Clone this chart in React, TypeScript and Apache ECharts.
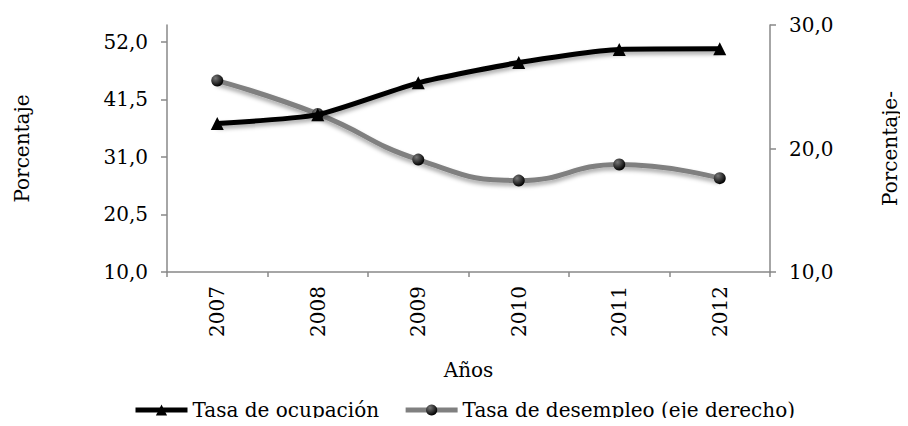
import React, { useEffect, useRef } from "react";
import * as echarts from "echarts";

const years = ["2007", "2008", "2009", "2010", "2011", "2012"];
const ocupacion = [37.1, 38.7, 44.5, 48.2, 50.6, 50.7];
const desempleo = [25.5, 22.8, 19.1, 17.4, 18.7, 17.6];
const leftTicks = [10, 20.5, 31, 41.5, 52];

const FONT = "DejaVu Serif";
const FS = 20;
const fmt = (v: number) => v.toFixed(1).replace(".", ",");

export default function App() {
  const ref = useRef<HTMLDivElement>(null);
  useEffect(() => {
    if (!ref.current) return;
    const chart = echarts.init(ref.current, null, { renderer: "svg" });
    const markerColor = {
      type: "radial",
      x: 0.35,
      y: 0.3,
      r: 0.7,
      colorStops: [
        { offset: 0, color: "#777" },
        { offset: 1, color: "#000" },
      ],
    };
    const txt = { fontFamily: FONT, fontSize: FS, color: "#000" };
    chart.setOption({
      animation: false,
      textStyle: { fontFamily: FONT },
      grid: { left: 167, right: 133, top: 25, bottom: 154 },
      legend: {
        bottom: 1,
        left: 128,
        itemWidth: 52,
        itemHeight: 14,
        itemGap: 24,
        lineStyle: { width: 5 },
        textStyle: txt,
        data: ["Tasa de ocupación", "Tasa de desempleo (eje derecho)"],
      },
      xAxis: {
        type: "category",
        data: years,
        boundaryGap: true,
        name: "Años",
        nameLocation: "middle",
        nameGap: 88,
        nameTextStyle: txt,
        axisLine: { lineStyle: { color: "#888", width: 1.5 } },
        axisTick: { show: true, length: 5, lineStyle: { color: "#888", width: 1.5 } },
        axisLabel: { ...txt, rotate: 90, margin: 14 },
      },
      yAxis: [
        {
          type: "value",
          min: 10,
          max: 55.05,
          splitLine: { show: false },
          name: "Porcentaje",
          nameLocation: "middle",
          nameRotate: 90,
          nameGap: 135,
          nameTextStyle: txt,
          axisLine: { show: true, lineStyle: { color: "#888", width: 1.5 } },
          axisTick: { show: true, length: 6, customValues: leftTicks, lineStyle: { color: "#888", width: 1.5 } },
          axisLabel: {
            ...txt,
            customValues: leftTicks,
            margin: 19,
            formatter: (v: number) => fmt(v),
          },
        },
        {
          type: "value",
          min: 10,
          max: 30,
          interval: 10,
          position: "right",
          splitLine: { show: false },
          name: "Porcentaje-",
          nameLocation: "middle",
          nameRotate: 90,
          nameGap: 110,
          nameTextStyle: txt,
          axisLine: { show: true, lineStyle: { color: "#888", width: 1.5 } },
          axisTick: { show: true, length: 6, lineStyle: { color: "#888", width: 1.5 } },
          axisLabel: {
            ...txt,
            margin: 19,
            formatter: (v: number) => fmt(v),
          },
        },
      ],
      series: [
        {
          name: "Tasa de ocupación",
          type: "line",
          yAxisIndex: 0,
          data: ocupacion,
          smooth: 0.2,
          symbol: "triangle",
          symbolSize: 13,
          lineStyle: {
            color: "#000",
            width: 5,
            shadowColor: "rgba(0,0,0,0.35)",
            shadowBlur: 4,
            shadowOffsetY: 3,
          },
          itemStyle: { color: "#000" },
          z: 3,
        },
        {
          name: "Tasa de desempleo (eje derecho)",
          type: "line",
          yAxisIndex: 1,
          data: desempleo,
          smooth: true,
          symbol: "circle",
          symbolSize: 12,
          lineStyle: {
            color: "#808080",
            width: 5,
            shadowColor: "rgba(0,0,0,0.35)",
            shadowBlur: 4,
            shadowOffsetY: 3,
          },
          itemStyle: { color: markerColor },
          z: 2,
        },
      ],
    });
    return () => chart.dispose();
  }, []);
  return <div ref={ref} style={{ width: 908, height: 426, margin: -8 }} />;
}
